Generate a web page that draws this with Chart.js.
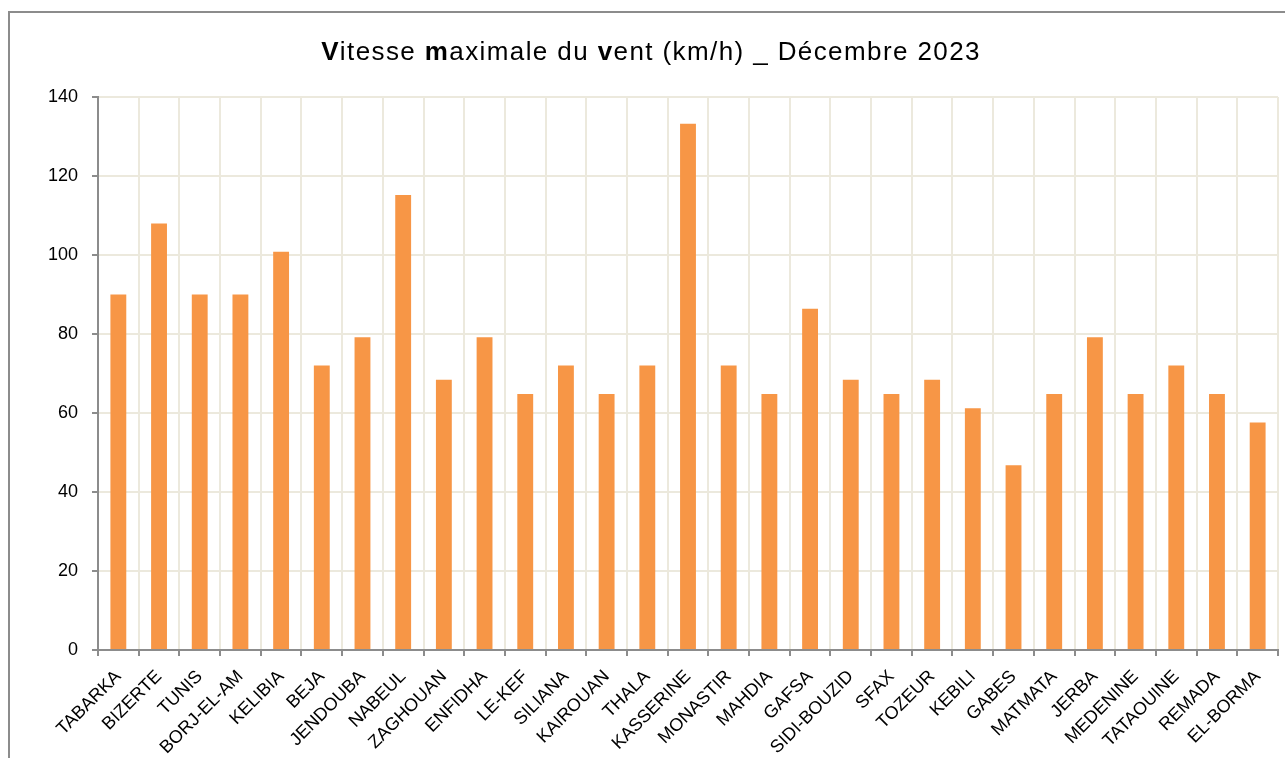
<!DOCTYPE html>
<html>
<head>
<meta charset="utf-8">
<script src="https://cdn.jsdelivr.net/npm/chart.js@4/dist/chart.umd.min.js"></script>
<style>
  html, body { margin: 0; padding: 0; background: #fff; }
  #wrap { width: 1285px; height: 758px; position: relative; }
</style>
</head>
<body>
<div id="wrap"><canvas id="graphVent"></canvas></div>
<script>
// =====================
// Données
// =====================
const stations = [
  "TABARKA", "BIZERTE", "TUNIS", "BORJ-EL-AM", "KELIBIA", "BEJA", "JENDOUBA",
  "NABEUL", "ZAGHOUAN", "ENFIDHA", "LE-KEF", "SILIANA", "KAIROUAN", "THALA",
  "KASSERINE", "MONASTIR", "MAHDIA", "GAFSA", "SIDI-BOUZID", "SFAX", "TOZEUR",
  "KEBILI", "GABES", "MATMATA", "JERBA", "MEDENINE", "TATAOUINE", "REMADA", "EL-BORMA"
];
const ventMax = [
  90, 108, 90, 90, 100.8, 72, 79.2,
  115.2, 68.4, 79.2, 64.8, 72, 64.8, 72,
  133.2, 72, 64.8, 86.4, 68.4, 64.8, 68.4,
  61.2, 46.8, 64.8, 79.2, 64.8, 72, 64.8, 57.6
];
const yTicks = [0, 20, 40, 60, 80, 100, 120, 140];

// titre avec lettres en gras
const titreParts = [
  ["V", true], ["itesse ", false], ["m", true], ["aximale du ", false],
  ["v", true], ["ent (km/h) _ Décembre 2023", false]
];

const FONT = '"Liberation Sans", Arial, sans-serif';
const GRIS = "#8c8c8c";
const GRILLE = "#ece9dd";

// =====================
// Plugin : cadre + titre
// =====================
const cadreTitre = {
  id: "cadreTitre",
  afterDraw(chart) {
    const ctx = chart.ctx;
    ctx.save();
    // cadre du graphique (coupé à droite et en bas)
    ctx.strokeStyle = GRIS;
    ctx.lineWidth = 2;
    ctx.beginPath();
    ctx.moveTo(9, 760);
    ctx.lineTo(9, 12);
    ctx.lineTo(1290, 12);
    ctx.stroke();

    // titre
    const size = 26;
    ctx.letterSpacing = "1.4px";
    let total = 0;
    titreParts.forEach(([t, b]) => {
      ctx.font = (b ? "bold " : "") + size + "px " + FONT;
      total += ctx.measureText(t).width;
    });
    let x = 651 - total / 2;
    ctx.fillStyle = "#000";
    ctx.textBaseline = "middle";
    ctx.textAlign = "left";
    titreParts.forEach(([t, b]) => {
      ctx.font = (b ? "bold " : "") + size + "px " + FONT;
      ctx.fillText(t, x, 53);
      x += ctx.measureText(t).width;
    });
    ctx.restore();
  }
};

// =====================
// Graphique
// =====================
const ctx = document.getElementById("graphVent").getContext("2d");

new Chart(ctx, {
  type: "bar",
  data: {
    labels: stations,
    datasets: [
      {
        label: "Vitesse maximale du vent (km/h)",
        data: ventMax,
        backgroundColor: "#f79646",
        borderWidth: 0,
        barPercentage: 0.39,
        categoryPercentage: 1,
      },
    ],
  },
  options: {
    responsive: true,
    maintainAspectRatio: false,
    animation: false,
    layout: { padding: { top: 97, left: 0, right: 7, bottom: 0 } },
    plugins: {
      legend: { display: false },
      title: { display: false },
      tooltip: { enabled: false },
    },
    scales: {
      x: {
        offset: true,
        grid: {
          offset: true,
          color: GRILLE,
          lineWidth: 2,
          tickColor: GRIS,
          tickLength: 6,
        },
        border: { color: GRIS, width: 2 },
        ticks: {
          autoSkip: false,
          maxRotation: 45,
          minRotation: 45,
          padding: 10,
          color: "#000",
          font: { family: FONT, size: 18 },
        },
        afterFit(scale) { scale.height = 108; },
      },
      y: {
        min: 0,
        max: 140,
        afterBuildTicks(scale) { scale.ticks = yTicks.map((v) => ({ value: v })); },
        grid: {
          color: GRILLE,
          lineWidth: 2,
          tickColor: GRIS,
          tickLength: 6,
        },
        border: { color: GRIS, width: 2 },
        ticks: {
          padding: 14,
          color: "#000",
          font: { family: FONT, size: 18 },
        },
        afterFit(scale) { scale.width = 98; },
      },
    },
  },
  plugins: [cadreTitre],
});
</script>
</body>
</html>
